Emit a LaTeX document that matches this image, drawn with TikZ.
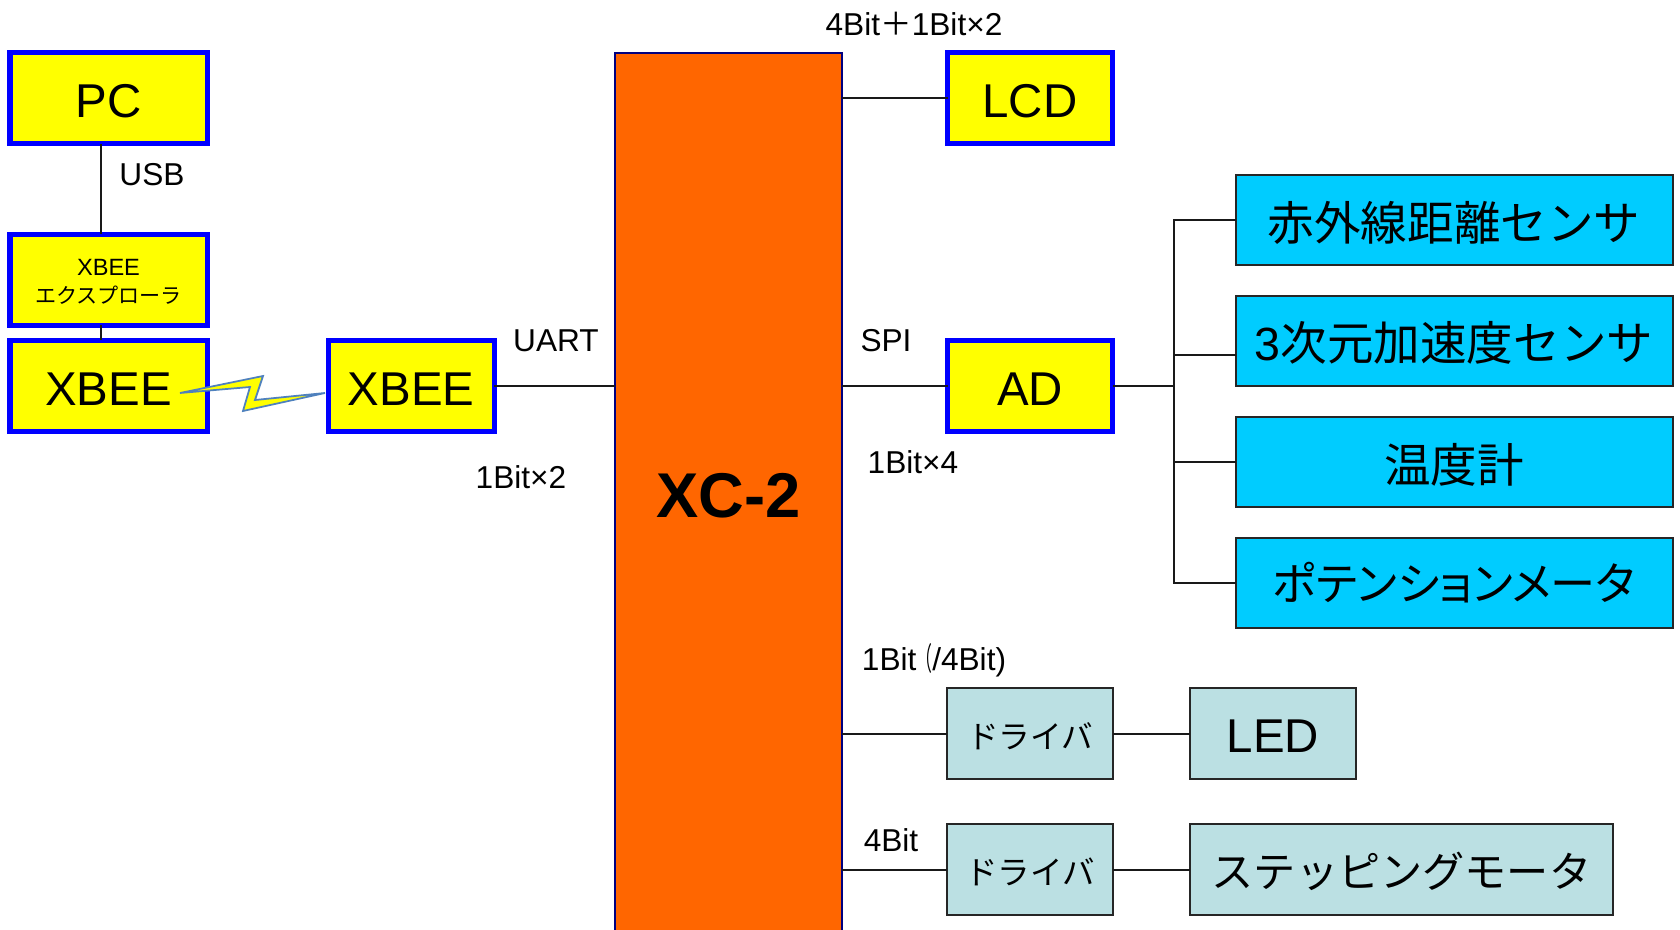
\documentclass[tikz,border=0pt]{standalone}
\usepackage{graphicx}
\usepackage{fontspec}
\setmainfont{Liberation Sans}
\newfontfamily\jpfont{Noto Sans CJK JP}
\newfontfamily\jpprop[RawFeature=+palt]{Noto Sans CJK JP}
\newcommand{\bajo}[2][1.8pt]{\raisebox{-#1}[\height][\depth]{#2}}
\definecolor{amarillo}{RGB}{255,255,0}
\definecolor{azulcaja}{HTML}{0000FF}
\definecolor{naranja}{HTML}{FF6600}
\definecolor{celeste}{HTML}{00CCFF}
\definecolor{palido}{HTML}{BBE0E3}
\definecolor{rayo}{HTML}{4F81BD}
\tikzset{
	caja/.style={draw=azulcaja, fill=amarillo, line width=0.1cm, minimum height=1.82cm, inner sep=0pt, outer sep=0pt, font=\fontsize{27}{32}\selectfont},
	sensor/.style={draw=black!85, fill=celeste, line width=0.04cm, minimum width=8.74cm, minimum height=1.8cm, inner sep=0pt, outer sep=0pt, font=\fontsize{26.5}{32}\selectfont},
	driver/.style={draw=black!85, fill=palido, line width=0.04cm, minimum height=1.82cm, inner sep=0pt, outer sep=0pt},
	etiqueta/.style={font=\fontsize{18}{20}\selectfont, inner sep=0pt},
	linea/.style={line width=0.04cm, black!90}
}
\begin{document}
\begin{tikzpicture}
	\useasboundingbox (0,0) rectangle (33.6,18.58);
	\clip (0,0) rectangle (33.6,18.58);
		% Izquierda
			\node[caja, minimum width=3.94cm] (pc) at (2.17,16.61) {\bajo{PC}};
			\node[caja, minimum width=3.94cm, align=center, font=\fontsize{13.4}{16}\selectfont] (explorer) at (2.17,12.98) {\bajo[1.1pt]{XBEE}\\\bajo[1.1pt]{\fontsize{12}{16}\selectfont\jpfont エクスプローラ}};
			\node[caja, minimum width=3.94cm] (xbeePC) at (2.17,10.86) {\bajo{XBEE}};
			\node[caja, minimum width=3.32cm] (xbeeXC) at (8.22,10.86) {\bajo{XBEE}};
		% XC-2
			\node[draw=black!50!blue, fill=naranja, line width=0.03cm, minimum width=4.54cm, minimum height=17.68cm, inner sep=0pt, outer sep=0pt, font=\fontsize{36}{44}\selectfont\bfseries] (xc) at (14.57,8.68) {\bajo[0.5pt]{XC-2}};
		% Derecha
			\node[caja, minimum width=3.3cm] (lcd) at (20.6,16.61) {\bajo{LCD}};
			\node[caja, minimum width=3.3cm] (ad) at (20.6,10.86) {\bajo{AD}};
			\node[sensor, font=\fontsize{26.5}{32}\selectfont\jpfont] (dist) at (29.08,14.18) {\bajo{赤外線距離センサ}};
			\node[sensor] (acel) at (29.08,11.76) {\bajo[1.2pt]{3{\jpfont 次元加速度センサ}}};
			\node[sensor, font=\fontsize{26.5}{32}\selectfont\jpfont] (temp) at (29.08,9.34) {\bajo{温度計}};
			\node[sensor, font=\fontsize{25.7}{32}\selectfont\jpprop] (poten) at (29.08,6.92) {ポテンションメータ};
		% Drivers
			\node[driver, minimum width=3.32cm, font=\fontsize{18}{20}\selectfont\jpfont] (drvLED) at (20.6,3.91) {\bajo{ドライバ}};
			\node[driver, minimum width=3.32cm, font=\fontsize{27}{32}\selectfont] (led) at (25.46,3.91) {\bajo{LED}};
			\node[driver, minimum width=3.32cm, font=\fontsize{18.5}{20}\selectfont\jpfont] (drvMot) at (20.6,1.19) {\bajo[1.2pt]{ドライバ}};
			\node[driver, minimum width=8.46cm, font=\fontsize{24}{28}\selectfont\jpfont] (motor) at (28.03,1.19) {\bajo[1.2pt]{ステッピングモータ}};
		% Conexiones
			\coordinate (bus) at (23.48,10.86);
			\draw[linea] ([xshift=-0.15cm]pc.south) -- ([xshift=-0.15cm]explorer.north);
			\draw[linea] ([xshift=-0.15cm]explorer.south) -- ([xshift=-0.15cm]xbeePC.north);
			\draw[linea] (xbeeXC.east) -- (xbeeXC.east -| xc.west);
			\draw[linea] (lcd.west) -- (lcd.west -| xc.east);
			\draw[linea] (ad.west) -- (ad.west -| xc.east);
			\draw[linea] (ad.east) -- (bus);
			\draw[linea] (dist.west) -| (bus);
			\draw[linea] ([yshift=-0.28cm]acel.west) -- ([yshift=-0.28cm]acel.west -| bus);
			\draw[linea] (temp.west) -- (temp.west -| bus);
			\draw[linea] (poten.west) -| (bus);
			\draw[linea] (drvLED.west) -- (drvLED.west -| xc.east);
			\draw[linea] (drvLED.east) -- (led.west);
			\draw[linea] (drvMot.west) -- (drvMot.west -| xc.east);
			\draw[linea] (drvMot.east) -- (motor.west);
		% Rayo
			\draw[rayo, fill=amarillo, line width=0.035cm, line join=miter] (3.6,10.72) -- (5.26,11.06) -- (5.1,10.58) -- (6.5,10.72) -- (4.86,10.36) -- (5,10.84) -- cycle;
		% Etiquetas
			\node[etiqueta] (lblBus) at (18.28,18.1) {4Bit{\jpfont ＋}1Bit×2};
			\node[etiqueta] (lblUSB) at (3.04,15.08) {USB};
			\node[etiqueta] (lblUART) at (11.12,11.76) {UART};
			\node[etiqueta] (lblUARTb) at (10.42,9.04) {1Bit×2};
			\node[etiqueta] (lblSPI) at (17.72,11.76) {SPI};
			\node[etiqueta] (lblSPIb) at (18.26,9.34) {1Bit×4};
			\node[etiqueta] (lblLED) at (18.68,5.38) {1Bit\scalebox{0.5}[1]{\jpfont （}/4Bit)};
			\node[etiqueta] (lblMot) at (17.82,1.78) {4Bit};
\end{tikzpicture}
\end{document}
